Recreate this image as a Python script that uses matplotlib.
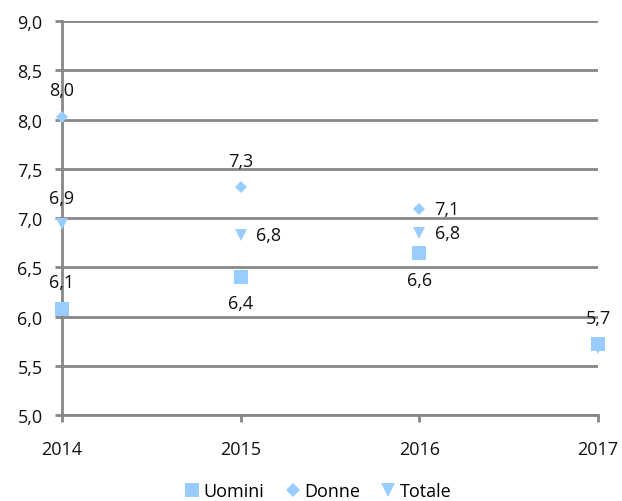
import matplotlib
matplotlib.use("Agg")
import matplotlib.pyplot as plt
from matplotlib.lines import Line2D

years = ["2014", "2015", "2016", "2017"]
uomini = [6.08, 6.40, 6.64, 5.72]
donne = [8.03, 7.31, 7.09, None]
totale = [6.94, 6.83, 6.85, 5.68]

# label placement per point: 'above', 'right', 'below' or None
uomini_pos = ["above", "below", "below", "above"]
donne_pos = ["above", "above", "right", None]
totale_pos = ["above", "right", "right", None]

plt.rcParams["font.family"] = ["Open Sans", "DejaVu Sans"]
color = "#99CCFF"
grid_color = "#878787"
fs = 13

fig = plt.figure(figsize=(6.22, 5.02), dpi=100)
ax = fig.add_axes([62 / 622, 1 - 416 / 502, (598 - 62) / 622, (416 - 22) / 502])

x = list(range(len(years)))

def plot_series(vals, marker, ms, positions):
    xs = [i for i, v in zip(x, vals) if v is not None]
    ys = [v for v in vals if v is not None]
    ax.plot(xs, ys, linestyle="none", marker=marker, markersize=ms,
            color=color, markeredgewidth=0, clip_on=False, zorder=3)
    for i, v, p in zip(x, vals, positions):
        if v is None or p is None:
            continue
        txt = f"{v:.1f}".replace(".", ",")
        if p == "above":
            off, ha, va = (0, 19), "center", "center"
        elif p == "below":
            off, ha, va = (0, -19), "center", "center"
        else:
            off, ha, va = (11, 0), "left", "center"
        ax.annotate(txt, (i, v), xytext=off, textcoords="offset points",
                    ha=ha, va=va, fontsize=fs, color="#111111", zorder=4)

plot_series(totale, "v", 9, totale_pos)
plot_series(donne, "D", 6.5, donne_pos)
plot_series(uomini, "s", 9.5, uomini_pos)

ax.set_xlim(0, 3)
ax.set_ylim(5.0, 9.0)
ax.set_yticks([5.0 + 0.5 * k for k in range(9)])
ax.set_yticklabels([f"{5.0 + 0.5 * k:.1f}".replace(".", ",") for k in range(9)])
ax.set_xticks(x)
ax.set_xticklabels(years)

ax.grid(axis="y", color=grid_color, linewidth=2)
ax.set_axisbelow(True)
for s in ["top", "right"]:
    ax.spines[s].set_visible(False)
for s in ["left", "bottom"]:
    ax.spines[s].set_color(grid_color)
    ax.spines[s].set_linewidth(2)
ax.tick_params(axis="both", colors=grid_color, width=2, length=5,
               labelcolor="#111111", labelsize=fs)
ax.tick_params(axis="x", pad=13)
ax.tick_params(axis="y", pad=9)

handles = [
    Line2D([], [], linestyle="none", marker="s", markersize=10, color=color, markeredgewidth=0),
    Line2D([], [], linestyle="none", marker="D", markersize=7, color=color, markeredgewidth=0),
    Line2D([], [], linestyle="none", marker="v", markersize=10, color=color, markeredgewidth=0),
]
fig.legend(handles, ["Uomini", "Donne", "Totale"], loc="center",
           bbox_to_anchor=(317 / 622, 1 - 492 / 502), ncol=3, frameon=False,
           fontsize=fs, handletextpad=0.1, columnspacing=1.0, handlelength=1.1)

fig.savefig("out.png", dpi=100)
